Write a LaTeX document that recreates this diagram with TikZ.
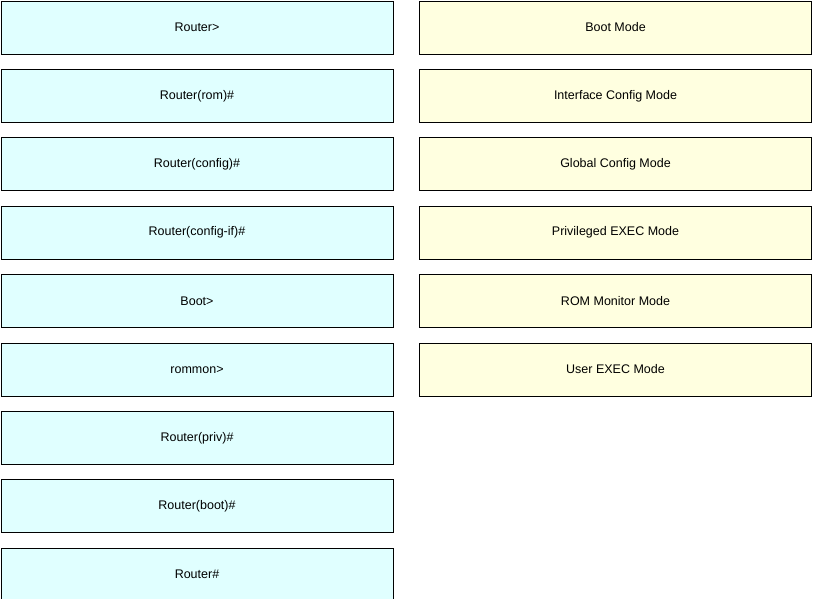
\documentclass[tikz,border=0pt]{standalone}
\usepackage{fontspec}
\setmainfont{Liberation Sans}
\usetikzlibrary{positioning}
\definecolor{promptfill}{HTML}{E0FFFF}
\definecolor{modefill}{HTML}{FFFFE0}

\begin{document}
\begin{tikzpicture}[x=1pt,y=-1pt, node distance=14.6pt,
	promptbox/.style={draw, thick, fill=promptfill, minimum width=392pt, minimum height=53pt, font=\fontsize{12.5}{14}\selectfont, inner sep=0pt},
	modebox/.style={draw, thick, fill=modefill, minimum width=392pt, minimum height=53pt, font=\fontsize{12.5}{14}\selectfont, inner sep=0pt}]
	\useasboundingbox (0,0) rectangle (813,599);
	\node[promptbox](p_1) at (197,27.5){Router>};
	\node[promptbox](p_2)[below=of p_1]{Router(rom)\#};
	\node[promptbox](p_3)[below=of p_2]{Router(config)\#};
	\node[promptbox](p_4)[below=of p_3]{Router(config-if)\#};
	\node[promptbox](p_5)[below=of p_4]{Boot>};
	\node[promptbox](p_6)[below=of p_5]{rommon>};
	\node[promptbox](p_7)[below=of p_6]{Router(priv)\#};
	\node[promptbox](p_8)[below=of p_7]{Router(boot)\#};
	\node[promptbox](p_9)[below=of p_8]{Router\#};

	\node[modebox](m_1) at (615.5,27.5){Boot Mode};
	\node[modebox](m_2)[below=of m_1]{Interface Config Mode};
	\node[modebox](m_3)[below=of m_2]{Global Config Mode};
	\node[modebox](m_4)[below=of m_3]{Privileged EXEC Mode};
	\node[modebox](m_5)[below=of m_4]{ROM Monitor Mode};
	\node[modebox](m_6)[below=of m_5]{User EXEC Mode};
\end{tikzpicture}
\end{document}
